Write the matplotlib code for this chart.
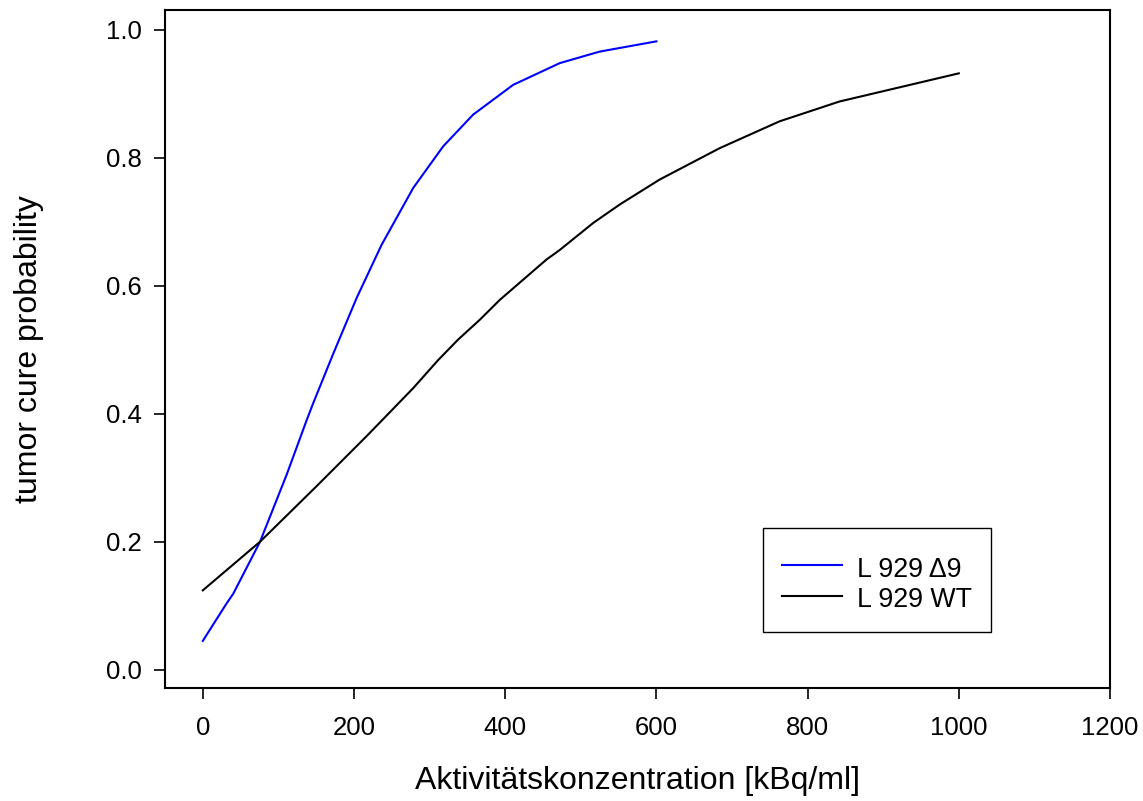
import matplotlib
matplotlib.use("Agg")
import matplotlib.pyplot as plt
from matplotlib.patches import Rectangle

# Data
x_d9 = [0, 31.7, 40.4, 75.7, 111, 137.4, 146.2, 172.6, 203.5, 236.5, 278.4, 318, 357.6, 410.5, 472.2, 525, 600]
y_d9 = [0.045, 0.104, 0.119, 0.200, 0.305, 0.390, 0.417, 0.494, 0.581, 0.664, 0.753, 0.818, 0.8675, 0.914, 0.948, 0.966, 0.982]

x_wt = [0, 75.7, 150.7, 216.7, 278.3, 311.4, 337.8, 366.5, 392.9, 454.6, 472.2, 516.2, 551.5,
        604.3, 683.6, 762.9, 842.2, 1000]
y_wt = [0.124, 0.200, 0.287, 0.365, 0.440, 0.484, 0.516, 0.547, 0.578, 0.641, 0.656, 0.698, 0.727,
        0.766, 0.815, 0.857, 0.888, 0.932]

x_ticks = [0, 200, 400, 600, 800, 1000, 1200]
y_ticks = [0.0, 0.2, 0.4, 0.6, 0.8, 1.0]
labels = ["L 929 \u03949", "L 929 WT"]

plt.rcParams['font.family'] = ['Liberation Sans', 'DejaVu Sans']

W, H = 1143, 801
fig = plt.figure(figsize=(W / 100, H / 100), dpi=100)
ax = fig.add_axes([165/W, 1 - 688/H, (1110 - 165)/W, (688 - 10)/H])

ax.plot(x_d9, y_d9, color='#0000ff', lw=1.5, label=labels[0])
ax.plot(x_wt, y_wt, color='black', lw=1.5, label=labels[1])

ax.set_xlim(-50, 1200)
ax.set_ylim(-0.0286, 1.031)
ax.set_xticks(x_ticks)
ax.set_yticks(y_ticks)
ax.set_xticklabels([str(v) for v in x_ticks])
ax.set_yticklabels([f"{v:.1f}" for v in y_ticks])
ax.tick_params(axis='both', direction='out', length=8, width=1.2, labelsize=18.5)
ax.tick_params(axis='x', pad=12)
ax.tick_params(axis='y', pad=9)
for s in ax.spines.values():
    s.set_linewidth(1.5)

ax.set_xlabel("Aktivitätskonzentration [kBq/ml]", fontsize=23, labelpad=19)
ax.set_ylabel("tumor cure probability", fontsize=23, labelpad=44)

leg = ax.legend(loc='upper left', bbox_to_anchor=(782/W, 1 - 553.5/H),
                bbox_transform=fig.transFigure,
                fontsize=19.3, frameon=False,
                handlelength=2.24, handletextpad=0.56, borderpad=0,
                labelspacing=0.05, handleheight=1.25, borderaxespad=0)
fig.add_artist(Rectangle((763/W, 1 - 632/H), 228/W, 104/H, transform=fig.transFigure,
                         fill=False, edgecolor='black', lw=1.0))

fig.savefig("out.png", dpi=100)
